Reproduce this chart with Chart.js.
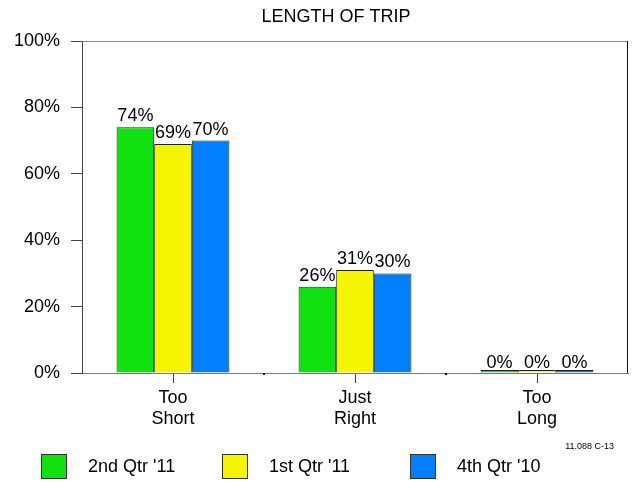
<!DOCTYPE html>
<html>
<head>
<meta charset="utf-8">
<script src="https://cdn.jsdelivr.net/npm/chart.js@4/dist/chart.umd.min.js"></script>
<style>
  body { margin: 0; background: #fff; }
  #wrap { position: relative; width: 634px; height: 482px; font-family: Arial, "Liberation Sans", sans-serif; }
  .lg { position: absolute; top: 454px; display: flex; align-items: center; }
  .lg span.box { width: 26px; height: 25px; border: 1px solid #333; box-sizing: border-box; }
  .lg span.txt { font-size: 18px; color: #000; margin-left: 21px; }
  #code { position: absolute; right: 20px; top: 441px; font-size: 9px; color: #000; }
</style>
</head>
<body>
<div id="wrap">
  <canvas id="chart" width="634" height="482"></canvas>
  <div id="code">11.088 C-13</div>
</div>
<script>
const categories = [["Too", "Short"], ["Just", "Right"], ["Too", "Long"]];
const seriesNames = ["2nd Qtr '11", "1st Qtr '11", "4th Qtr '10"];
const q2_11 = [74, 26, 0];
const q1_11 = [69, 31, 0];
const q4_10 = [70, 30, 0];
const yTicks = [0, 20, 40, 60, 80, 100];
const colors = ["#10E010", "#F5F500", "#0080FF"];

const allSeries = [q2_11, q1_11, q4_10];

// value labels above the bars, plus title and frame
const extras = {
  id: "extras",
  afterDatasetsDraw(chart) {
    const ctx = chart.ctx;
    const area = chart.chartArea;
    ctx.save();
    ctx.font = "18px Arial, 'Liberation Sans'";
    ctx.fillStyle = "#000";
    ctx.textAlign = "center";
    ctx.textBaseline = "bottom";
    chart.data.datasets.forEach((ds, i) => {
      chart.getDatasetMeta(i).data.forEach((bar, j) => {
        ctx.fillText(ds.data[j] + "%", bar.x, bar.y + (ds.data[j] === 0 ? 2 : -2));
      });
    });
    // frame top/right
    ctx.strokeStyle = "#888";
    ctx.lineWidth = 1;
    ctx.beginPath();
    ctx.moveTo(area.left, area.top + 0.5);
    ctx.lineTo(area.right, area.top + 0.5);
    ctx.stroke();
    ctx.strokeStyle = "#111";
    ctx.beginPath();
    ctx.moveTo(area.right - 0.5, area.top);
    ctx.lineTo(area.right - 0.5, area.bottom);
    ctx.stroke();
    // small marks between categories
    const x = chart.scales.x;
    ctx.fillStyle = "#000";
    for (let i = 1; i < categories.length; i++) {
      const px = (x.getPixelForValue(i - 1) + x.getPixelForValue(i)) / 2;
      ctx.fillRect(Math.round(px) - 1, area.bottom, 2, 2);
    }
    // title
    ctx.font = "18px Arial, 'Liberation Sans'";
    ctx.textBaseline = "middle";
    ctx.fillText("LENGTH OF TRIP", 336, 17);
    ctx.restore();
  }
};

new Chart(document.getElementById("chart"), {
  type: "bar",
  data: {
    labels: categories,
    datasets: seriesNames.map((name, i) => ({
      label: name,
      data: allSeries[i],
      backgroundColor: colors[i],
      borderColor: "#222",
      borderWidth: 1,
      minBarLength: 3,
      categoryPercentage: 0.62,
      barPercentage: 1.0
    }))
  },
  options: {
    responsive: false,
    animation: false,
    layout: { padding: { top: 41, right: 6, left: 0, bottom: 0 } },
    plugins: {
      legend: { display: false },
      tooltip: { enabled: false }
    },
    scales: {
      x: {
        offset: true,
        afterFit: (s) => { s.height = 109; },
        grid: { drawOnChartArea: false, offset: false, tickLength: 10, color: "#444" },
        border: { color: "#777" },
        ticks: { color: "#000", padding: 4, font: { size: 18, family: "Arial, 'Liberation Sans'" } }
      },
      y: {
        min: 0,
        max: 100,
        afterFit: (s) => { s.width = 82; },
        afterBuildTicks: (s) => { s.ticks = yTicks.map(v => ({ value: v })); },
        grid: { drawOnChartArea: false, tickLength: 11, color: "#444" },
        border: { color: "#444" },
        ticks: {
          color: "#000",
          padding: 11,
          font: { size: 18, family: "Arial, 'Liberation Sans'" },
          callback: (v) => v + "%"
        }
      }
    }
  },
  plugins: [extras]
});

// legend
const wrap = document.getElementById("wrap");
const legendX = [41, 222, 410];
seriesNames.forEach((name, i) => {
  const d = document.createElement("div");
  d.className = "lg";
  d.style.left = legendX[i] + "px";
  d.innerHTML = '<span class="box" style="background:' + colors[i] + '"></span><span class="txt"></span>';
  d.querySelector(".txt").textContent = name;
  wrap.appendChild(d);
});
</script>
</body>
</html>
